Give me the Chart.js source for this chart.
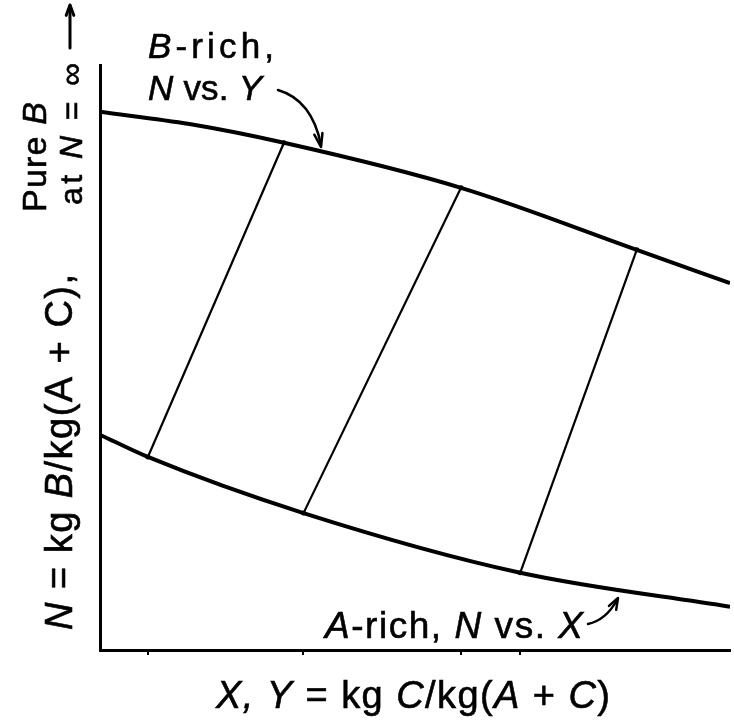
<!DOCTYPE html>
<html>
<head>
<meta charset="utf-8">
<script src="https://cdn.jsdelivr.net/npm/chart.js@4"></script>
<style>
  html, body { margin: 0; padding: 0; background: #fff; }
  canvas { display: block; }
</style>
</head>
<body>
<canvas id="chart" width="734" height="724"></canvas>
<script>
// X, Y = kg C/kg(A+C) across the plot, N = kg B/kg(A+C) up the plot (both 0..1)
const bRichY = [0, 0.142, 0.292, 0.573, 0.852, 1.0];
const bRichN = [0.920, 0.899, 0.867, 0.790, 0.684, 0.627];
const aRichX = [0, 0.076, 0.323, 0.667, 1.0];
const aRichN = [0.368, 0.330, 0.234, 0.132, 0.074];

// tie lines: A-rich end (X, N) joined to B-rich end (Y, N)
const tieX = [0.076, 0.323, 0.667];
const tieXN = [0.330, 0.234, 0.132];
const tieY = [0.292, 0.573, 0.852];
const tieYN = [0.867, 0.790, 0.684];

const xTicks = [0.076, 0.323, 0.573, 0.667];

const FONT = '"Liberation Sans", Arial, sans-serif';
const INK = "#000";

function pts(xs, ys) {
    return xs.map((x, i) => ({ x: x, y: ys[i] }));
}

const curveStyle = {
    showLine: true,
    borderColor: INK,
    borderWidth: 4,
    pointRadius: 0,
    cubicInterpolationMode: "monotone",
    fill: false
};

const datasets = [
    Object.assign({ label: "B-rich", data: pts(bRichY, bRichN) }, curveStyle),
    Object.assign({ label: "A-rich", data: pts(aRichX, aRichN) }, curveStyle)
];
tieX.forEach((x, i) => {
    datasets.push({
        label: "tie " + (i + 1),
        data: [{ x: x, y: tieXN[i] }, { x: tieY[i], y: tieYN[i] }],
        showLine: true,
        borderColor: INK,
        backgroundColor: INK,
        borderWidth: 2.2,
        pointRadius: 2.5,
        pointBorderWidth: 0,
        tension: 0
    });
});

// draws a string made of [text, italic] runs, stretched to a given width
function drawRuns(ctx, runs, o) {
    const chars = [];
    runs.forEach(r => {
        const font = (r[1] ? "italic " : "") + o.size + "px " + FONT;
        for (const ch of r[0]) {
            ctx.font = font;
            chars.push({ ch: ch, font: font, w: ctx.measureText(ch).width });
        }
    });
    const natural = chars.reduce((s, c) => s + c.w, 0);
    const gap = o.width ? (o.width - natural) / (chars.length - 1) : 0;
    const total = natural + gap * (chars.length - 1);
    ctx.save();
    ctx.translate(o.x, o.y);
    if (o.rotate) ctx.rotate(-Math.PI / 2);
    ctx.fillStyle = INK;
    ctx.strokeStyle = INK;
    ctx.lineWidth = 0.6;
    ctx.textBaseline = "alphabetic";
    ctx.textAlign = "left";
    let cx = o.align === "center" ? -total / 2 : 0;
    chars.forEach(c => {
        ctx.font = c.font;
        ctx.fillText(c.ch, cx, 0);
        ctx.strokeText(c.ch, cx, 0);
        cx += c.w + gap;
    });
    ctx.restore();
}

function arrowHead(ctx, x, y, angle, len, spread) {
    ctx.beginPath();
    ctx.moveTo(x, y);
    ctx.lineTo(x - len * Math.cos(angle - spread), y - len * Math.sin(angle - spread));
    ctx.moveTo(x, y);
    ctx.lineTo(x - len * Math.cos(angle + spread), y - len * Math.sin(angle + spread));
    ctx.stroke();
}

const labels = {
    id: "labels",
    afterDraw(chart) {
        const ctx = chart.ctx;
        ctx.save();
        ctx.strokeStyle = INK;
        ctx.lineCap = "round";

        // axis titles
        drawRuns(ctx, [["X, Y", true], [" = kg ", false], ["C", true], ["/kg(", false],
            ["A", true], [" + ", false], ["C", true], [")", false]],
            { x: 413, y: 708, size: 38, width: 394, align: "center" });
        drawRuns(ctx, [["N", true], [" = kg ", false], ["B", true], ["/kg(A + C),", false]],
            { x: 72, y: 630, size: 38, width: 356, rotate: true });
        drawRuns(ctx, [["Pure ", false], ["B", true]],
            { x: 46, y: 212, size: 34, width: 110, rotate: true });
        drawRuns(ctx, [["at ", false], ["N", true], [" = \u221E", false]],
            { x: 82, y: 205, size: 32, width: 142, rotate: true });

        // curve labels
        drawRuns(ctx, [["B", true], ["-rich,", false]], { x: 148, y: 58, size: 35, width: 126 });
        drawRuns(ctx, [["N", true], [" vs. ", false], ["Y", true]], { x: 148, y: 100, size: 35, width: 114 });
        drawRuns(ctx, [["A", true], ["-rich, ", false], ["N", true], [" vs. ", false], ["X", true]],
            { x: 325, y: 638, size: 37, width: 258 });

        // up arrow for N -> infinity
        ctx.lineWidth = 3;
        ctx.beginPath();
        ctx.moveTo(70, 48);
        ctx.lineTo(70, 6);
        ctx.stroke();
        arrowHead(ctx, 70, 5, -Math.PI / 2, 11, 0.35);

        // pointer to the B-rich curve
        ctx.lineWidth = 2.5;
        ctx.beginPath();
        ctx.moveTo(278, 90);
        ctx.quadraticCurveTo(312, 100, 321, 145);
        ctx.stroke();
        arrowHead(ctx, 321, 147, Math.atan2(45, 9), 14, 0.3);

        // pointer to the A-rich curve
        ctx.beginPath();
        ctx.moveTo(588, 624);
        ctx.quadraticCurveTo(606, 620, 617, 600);
        ctx.stroke();
        arrowHead(ctx, 618, 598, Math.atan2(-20, 11), 12, 0.35);

        ctx.restore();
    }
};

new Chart(document.getElementById("chart"), {
    type: "scatter",
    data: { datasets: datasets },
    options: {
        responsive: false,
        devicePixelRatio: 1,
        animation: false,
        events: [],
        layout: { padding: { top: 65, right: 0, left: 0, bottom: 0 } },
        plugins: { legend: { display: false }, tooltip: { enabled: false } },
        scales: {
            x: {
                type: "linear",
                min: 0,
                max: 1,
                afterBuildTicks: scale => { scale.ticks = xTicks.map(v => ({ value: v })); },
                afterFit: scale => { scale.height = 74; },
                ticks: { display: false },
                grid: { drawOnChartArea: false, drawTicks: true, tickLength: 5, color: INK, lineWidth: 2 },
                border: { color: INK, width: 3 }
            },
            y: {
                type: "linear",
                min: 0,
                max: 1,
                afterFit: scale => { scale.width = 100; },
                ticks: { display: false },
                grid: { display: false },
                border: { color: INK, width: 3 }
            }
        }
    },
    plugins: [labels]
});
</script>
</body>
</html>
